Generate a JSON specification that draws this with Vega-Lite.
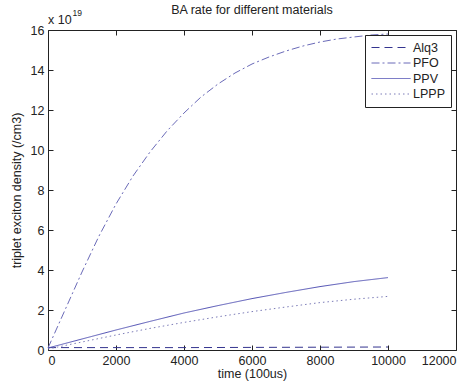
{
  "$schema": "https://vega.github.io/schema/vega-lite/v6.json",
  "autosize": {"type": "none"},
  "width": 408,
  "height": 320,
  "padding": {"left": 48, "top": 30, "right": 19, "bottom": 31},
  "background": "white",
  "config": {
    "font": "Liberation Sans",
    "view": {"stroke": "#222", "strokeWidth": 1},
    "axis": {"grid": false, "domain": false, "offset": -5, "tickColor": "#222", "labelColor": "#222", "titleColor": "#222", "labelFontSize": 12.5, "titleFontSize": 12.5, "titleFontWeight": "normal", "tickSize": 5, "labelPadding": 4}
  },
  "title": {"text": "BA rate for different materials", "fontSize": 12.5, "fontWeight": "normal", "color": "#222", "offset": -7, "font": "Liberation Sans"},
  "data": {"values": [
    {"material": "Alq3", "t": 0, "v": 0.12},
    {"material": "Alq3", "t": 2000, "v": 0.12},
    {"material": "Alq3", "t": 4000, "v": 0.12},
    {"material": "Alq3", "t": 6000, "v": 0.13},
    {"material": "Alq3", "t": 8000, "v": 0.14},
    {"material": "Alq3", "t": 10000, "v": 0.15},
    {"material": "PFO", "t": 0, "v": 0.1},
    {"material": "PFO", "t": 500, "v": 2.0},
    {"material": "PFO", "t": 1000, "v": 3.9},
    {"material": "PFO", "t": 1500, "v": 5.7},
    {"material": "PFO", "t": 2000, "v": 7.3},
    {"material": "PFO", "t": 2500, "v": 8.7},
    {"material": "PFO", "t": 3000, "v": 9.9},
    {"material": "PFO", "t": 3500, "v": 10.95},
    {"material": "PFO", "t": 4000, "v": 11.85},
    {"material": "PFO", "t": 4500, "v": 12.65},
    {"material": "PFO", "t": 5000, "v": 13.3},
    {"material": "PFO", "t": 5500, "v": 13.85},
    {"material": "PFO", "t": 6000, "v": 14.3},
    {"material": "PFO", "t": 6500, "v": 14.65},
    {"material": "PFO", "t": 7000, "v": 14.95},
    {"material": "PFO", "t": 7500, "v": 15.2},
    {"material": "PFO", "t": 8000, "v": 15.4},
    {"material": "PFO", "t": 8500, "v": 15.55},
    {"material": "PFO", "t": 9000, "v": 15.65},
    {"material": "PFO", "t": 9500, "v": 15.75},
    {"material": "PFO", "t": 10000, "v": 15.8},
    {"material": "PPV", "t": 0, "v": 0.1},
    {"material": "PPV", "t": 1000, "v": 0.55},
    {"material": "PPV", "t": 2000, "v": 1.0},
    {"material": "PPV", "t": 3000, "v": 1.43},
    {"material": "PPV", "t": 4000, "v": 1.85},
    {"material": "PPV", "t": 5000, "v": 2.22},
    {"material": "PPV", "t": 6000, "v": 2.57},
    {"material": "PPV", "t": 7000, "v": 2.88},
    {"material": "PPV", "t": 8000, "v": 3.17},
    {"material": "PPV", "t": 9000, "v": 3.42},
    {"material": "PPV", "t": 10000, "v": 3.62},
    {"material": "LPPP", "t": 0, "v": 0.05},
    {"material": "LPPP", "t": 1000, "v": 0.4},
    {"material": "LPPP", "t": 2000, "v": 0.75},
    {"material": "LPPP", "t": 3000, "v": 1.08},
    {"material": "LPPP", "t": 4000, "v": 1.38},
    {"material": "LPPP", "t": 5000, "v": 1.66},
    {"material": "LPPP", "t": 6000, "v": 1.92},
    {"material": "LPPP", "t": 7000, "v": 2.15},
    {"material": "LPPP", "t": 8000, "v": 2.37},
    {"material": "LPPP", "t": 9000, "v": 2.54},
    {"material": "LPPP", "t": 10000, "v": 2.68}
  ]},
  "layer": [
    {
      "mark": {"type": "line", "strokeWidth": 1},
      "encoding": {
        "x": {"field": "t", "type": "quantitative", "scale": {"domain": [0, 12000], "nice": false}, "axis": {"orient": "bottom", "title": "time (100us)", "values": [0, 2000, 4000, 6000, 8000, 10000, 12000], "format": "d", "titlePadding": 1}},
        "y": {"field": "v", "type": "quantitative", "scale": {"domain": [0, 16], "nice": false}, "axis": {"orient": "left", "title": "triplet exciton density (/cm3)", "values": [0, 2, 4, 6, 8, 10, 12, 14, 16], "titlePadding": 7}},
        "color": {"field": "material", "type": "nominal", "scale": {"domain": ["Alq3", "PFO", "PPV", "LPPP"], "range": ["#34348f", "#6a6ab8", "#5252b4", "#7c7cb8"]},
          "legend": {"title": null, "orient": "top-right", "offset": 5, "strokeColor": "#222", "fillColor": "white", "padding": 6, "symbolType": "M-1,0H5.5", "symbolSize": 144, "symbolStrokeWidth": 1, "labelFontSize": 12.5, "labelColor": "#222", "rowPadding": 2.5, "labelOffset": 29}},
        "strokeDash": {"field": "material", "type": "nominal", "scale": {"domain": ["Alq3", "PFO", "PPV", "LPPP"], "range": [[8, 5], [8, 3, 2, 3], [1, 0], [1.5, 3]]}}
      }
    },
    {
      "mark": {"type": "line", "opacity": 0},
      "encoding": {
        "x": {"field": "t", "type": "quantitative", "axis": {"orient": "top", "labels": false, "title": null, "values": [0, 2000, 4000, 6000, 8000, 10000, 12000]}},
        "y": {"field": "v", "type": "quantitative", "axis": {"orient": "right", "labels": false, "title": null, "values": [0, 2, 4, 6, 8, 10, 12, 14, 16]}}
      }
    },
    {
      "data": {"values": [{"label": "x 10"}]},
      "mark": {"type": "text", "align": "left", "baseline": "bottom", "dy": -3, "fontSize": 12.5, "color": "#222", "font": "Liberation Sans"},
      "encoding": {
        "x": {"datum": 0, "axis": null},
        "y": {"datum": 16, "axis": null},
        "text": {"field": "label"}
      }
    },
    {
      "data": {"values": [{"label": "19"}]},
      "mark": {"type": "text", "align": "left", "baseline": "bottom", "dy": -12, "dx": 24.5, "fontSize": 8.5, "color": "#222", "font": "Liberation Sans"},
      "encoding": {
        "x": {"datum": 0, "axis": null},
        "y": {"datum": 16, "axis": null},
        "text": {"field": "label"}
      }
    }
  ],
  "resolve": {"axis": {"x": "independent", "y": "independent"}}
}
